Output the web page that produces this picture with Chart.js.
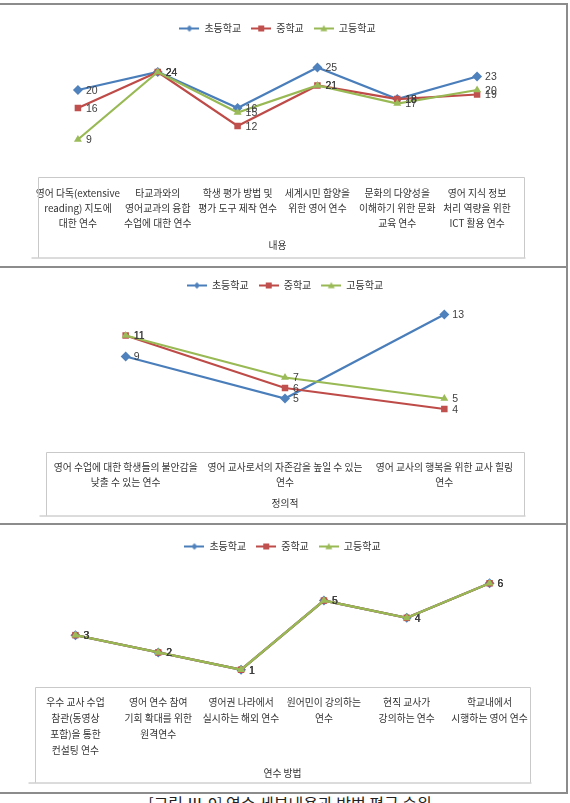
<!DOCTYPE html>
<html><head><meta charset="utf-8">
<script src="https://cdn.jsdelivr.net/npm/chart.js@4/dist/chart.umd.min.js"></script>
<style>
html,body{margin:0;padding:0;background:#fff;width:570px;height:803px;overflow:hidden;position:relative;}
canvas{position:absolute;left:0;}
.ln{position:absolute;background:#8c8c8c;}
#cap{position:absolute;left:0;width:580px;top:795px;text-align:center;font:16px/16px "Noto Sans CJK KR";color:#222;white-space:nowrap;}
</style></head><body>
<div class="ln" style="left:0;top:3px;width:568px;height:2px"></div>
<div class="ln" style="left:0;top:266px;width:568px;height:2px"></div>
<div class="ln" style="left:0;top:523px;width:568px;height:2px"></div>
<div class="ln" style="left:0;top:792px;width:568px;height:2px"></div>
<div class="ln" style="left:566px;top:3px;width:2px;height:791px"></div>
<canvas id="c1" width="570" height="258" style="top:5px"></canvas>
<canvas id="c2" width="570" height="252" style="top:268px"></canvas>
<canvas id="c3" width="570" height="262" style="top:525px"></canvas>
<div id="cap"></div>
<script>
// ---- data ----
const seriesNames = ['초등학교', '중학교', '고등학교'];

const contentCategories = [
  ['영어 다독(extensive', 'reading) 지도에', '대한 연수'],
  ['타교과와의', '영어교과의 융합', '수업에 대한 연수'],
  ['학생 평가 방법 및', '평가 도구 제작 연수'],
  ['세계시민 함양을', '위한 영어 연수'],
  ['문화의 다양성을', '이해하기 위한 문화', '교육 연수'],
  ['영어 지식 정보', '처리 역량을 위한', 'ICT 활용 연수']
];
const contentElementary = [20, 24, 16, 25, 18, 23];
const contentMiddle = [16, 24, 12, 21, 18, 19];
const contentHigh = [9, 24, 15, 21, 17, 20];
const contentTitle = '내용';

const affectiveCategories = [
  ['영어 수업에 대한 학생들의 불안감을', '낮출 수 있는 연수'],
  ['영어 교사로서의 자존감을 높일 수 있는', '연수'],
  ['영어 교사의 행복을 위한 교사 힐링', '연수']
];
const affectiveElementary = [9, 5, 13];
const affectiveMiddle = [11, 6, 4];
const affectiveHigh = [11, 7, 5];
const affectiveTitle = '정의적';

const methodCategories = [
  ['우수 교사 수업', '참관(동영상', '포함)을 통한', '컨설팅 연수'],
  ['영어 연수 참여', '기회 확대를 위한', '원격연수'],
  ['영어권 나라에서', '실시하는 해외 연수'],
  ['원어민이 강의하는', '연수'],
  ['현직 교사가', '강의하는 연수'],
  ['학교내에서', '시행하는 영어 연수']
];
const methodElementary = [3, 2, 1, 5, 4, 6];
const methodMiddle = [3, 2, 1, 5, 4, 6];
const methodHigh = [3, 2, 1, 5, 4, 6];
const methodTitle = '연수 방법';

const captionText = '[그림 Ⅲ-9] 연수 세부내용과 방법 평균 순위';

// ---- styles ----
const KR = '"Noto Sans CJK KR", "Noto Sans", sans-serif';
const TICK_SIZE = 9.8;
const seriesStyles = [
  {line: '#4A7EBB', fill: '#4F81BD', shape: 'rectRot', r: 5},
  {line: '#BE4B48', fill: '#C0504D', shape: 'rect', r: 4.6},
  {line: '#98B954', fill: '#9BBB59', shape: 'triangle', r: 4.6}
];

function legendIcon(st) {
  const c = document.createElement('canvas');
  c.width = 20; c.height = 10;
  const g = c.getContext('2d');
  g.strokeStyle = st.line; g.lineWidth = 2;
  g.beginPath(); g.moveTo(0, 5); g.lineTo(20, 5); g.stroke();
  g.fillStyle = st.fill;
  g.beginPath();
  if (st.shape === 'rectRot') { g.moveTo(10, 1.8); g.lineTo(13.2, 5); g.lineTo(10, 8.2); g.lineTo(6.8, 5); }
  else if (st.shape === 'rect') { g.rect(7, 2, 6, 6); }
  else { g.moveTo(10, 1.5); g.lineTo(13.5, 7.8); g.lineTo(6.5, 7.8); }
  g.closePath(); g.fill();
  return c;
}
const icons = seriesStyles.map(legendIcon);

const valueLabels = {
  id: 'valueLabels',
  afterDatasetsDraw(chart) {
    const ctx = chart.ctx;
    ctx.save();
    ctx.font = '10.5px "Liberation Sans", Arial, sans-serif';
    ctx.fillStyle = '#404040';
    ctx.textBaseline = 'middle';
    ctx.textAlign = 'left';
    chart.data.datasets.forEach((ds, i) => {
      chart.getDatasetMeta(i).data.forEach((pt, j) => {
        ctx.fillText(String(ds.data[j]), pt.x + 8, pt.y + 1);
      });
    });
    ctx.restore();
  }
};

const axisBox = {
  id: 'axisBox',
  afterDraw(chart, args, o) {
    const s = chart.scales.x, ctx = chart.ctx;
    const top = Math.round(s.top + o.topOffset) + 0.5;
    const left = Math.round(s.left + o.leftExtra) + 0.5;
    const right = Math.round(s.right + o.rightExtra) - 0.5;
    const bottom = o.bottom;
    ctx.save();
    ctx.lineWidth = 1;
    ctx.strokeStyle = '#c9c9c9';
    ctx.beginPath();
    ctx.moveTo(left, bottom); ctx.lineTo(left, top); ctx.lineTo(right, top); ctx.lineTo(right, bottom);
    ctx.stroke();
    ctx.strokeStyle = '#b8b8b8';
    ctx.beginPath();
    ctx.moveTo(left - 7, bottom + 0.5); ctx.lineTo(right + 1, bottom + 0.5);
    ctx.stroke();
    ctx.restore();
  }
};

function makeChart(id, categories, values, title, L) {
  const n = values.length;
  const datasets = values.map((vals, i) => {
    const st = seriesStyles[i];
    return {
      label: seriesNames[i], data: vals, order: n - 1 - i,
      borderColor: st.line, backgroundColor: st.fill, borderWidth: 2.25,
      pointStyle: st.shape, pointRadius: st.r, pointHoverRadius: st.r,
      pointBackgroundColor: st.fill, pointBorderColor: st.fill, pointBorderWidth: 0,
      tension: 0, clip: false
    };
  });
  return new Chart(document.getElementById(id), {
    type: 'line',
    data: {labels: categories, datasets},
    plugins: [valueLabels, axisBox],
    options: {
      responsive: false, animation: false, devicePixelRatio: 1,
      events: [],
      layout: {autoPadding: false, padding: {top: L.padTop, left: L.padLeft, right: L.padRight, bottom: 0}},
      plugins: {
        legend: {
          display: true, position: 'top', fullSize: false,
          labels: {
            usePointStyle: true, pointStyleWidth: 20, padding: 10,
            font: {family: KR, size: 10}, color: '#333',
            generateLabels(chart) {
              return chart.data.datasets.map((ds, i) => ({
                text: ds.label, pointStyle: icons[i], fillStyle: ds.borderColor,
                strokeStyle: ds.borderColor, lineWidth: 0, hidden: false, datasetIndex: i, fontColor: '#333'
              }));
            }
          }
        },
        subtitle: {display: true, text: '', weight: 500, font: {size: 1, lineHeight: 1}, padding: {top: 0, bottom: L.spacer - 1}},
        tooltip: {enabled: false},
        axisBox: {topOffset: L.boxTop, bottom: L.boxBottom, leftExtra: L.boxLeftExtra || 0, rightExtra: L.boxRightExtra || 0}
      },
      scales: {
        x: {
          offset: true,
          grid: {display: false, drawTicks: false},
          border: {display: false},
          ticks: {
            autoSkip: false, maxRotation: 0, minRotation: 0, padding: L.tickPad,
            font: {family: KR, size: TICK_SIZE, lineHeight: L.tickLH / TICK_SIZE}, color: '#333'
          },
          title: {
            display: true, text: title, color: '#333',
            font: {family: KR, size: TICK_SIZE}, padding: {top: 0, bottom: L.titlePad}
          },
          afterFit(scale) { scale.height = L.axisHeight; }
        },
        y: {display: false, min: 0, max: L.yMax}
      }
    }
  });
}

makeChart('c1', contentCategories, [contentElementary, contentMiddle, contentHigh], contentTitle,
  {padTop: 8.5, spacer: 1.5, padLeft: 38, padRight: 53, yMax: 30, axisHeight: 83, tickPad: 5.5, tickLH: 15,
   titlePad: 11.4, boxTop: -3, boxBottom: 252.5, boxRightExtra: 8});
makeChart('c2', affectiveCategories, [affectiveElementary, affectiveMiddle, affectiveHigh], affectiveTitle,
  {padTop: 2.5, spacer: 3.5, padLeft: 46, padRight: 46, yMax: 14, axisHeight: 69, tickPad: 8.5, tickLH: 15,
   titlePad: 10.4, boxTop: 1, boxBottom: 247.5, boxRightExtra: 1});
makeChart('c3', methodCategories, [methodElementary, methodMiddle, methodHigh], methodTitle,
  {padTop: 6.5, spacer: 4.5, padLeft: 34, padRight: 39, yMax: 7, axisHeight: 100, tickPad: 7, tickLH: 16,
   titlePad: 7.4, boxTop: 0, boxBottom: 257.5, boxLeftExtra: 1});

document.getElementById('cap').textContent = captionText;
</script>
</body></html>
